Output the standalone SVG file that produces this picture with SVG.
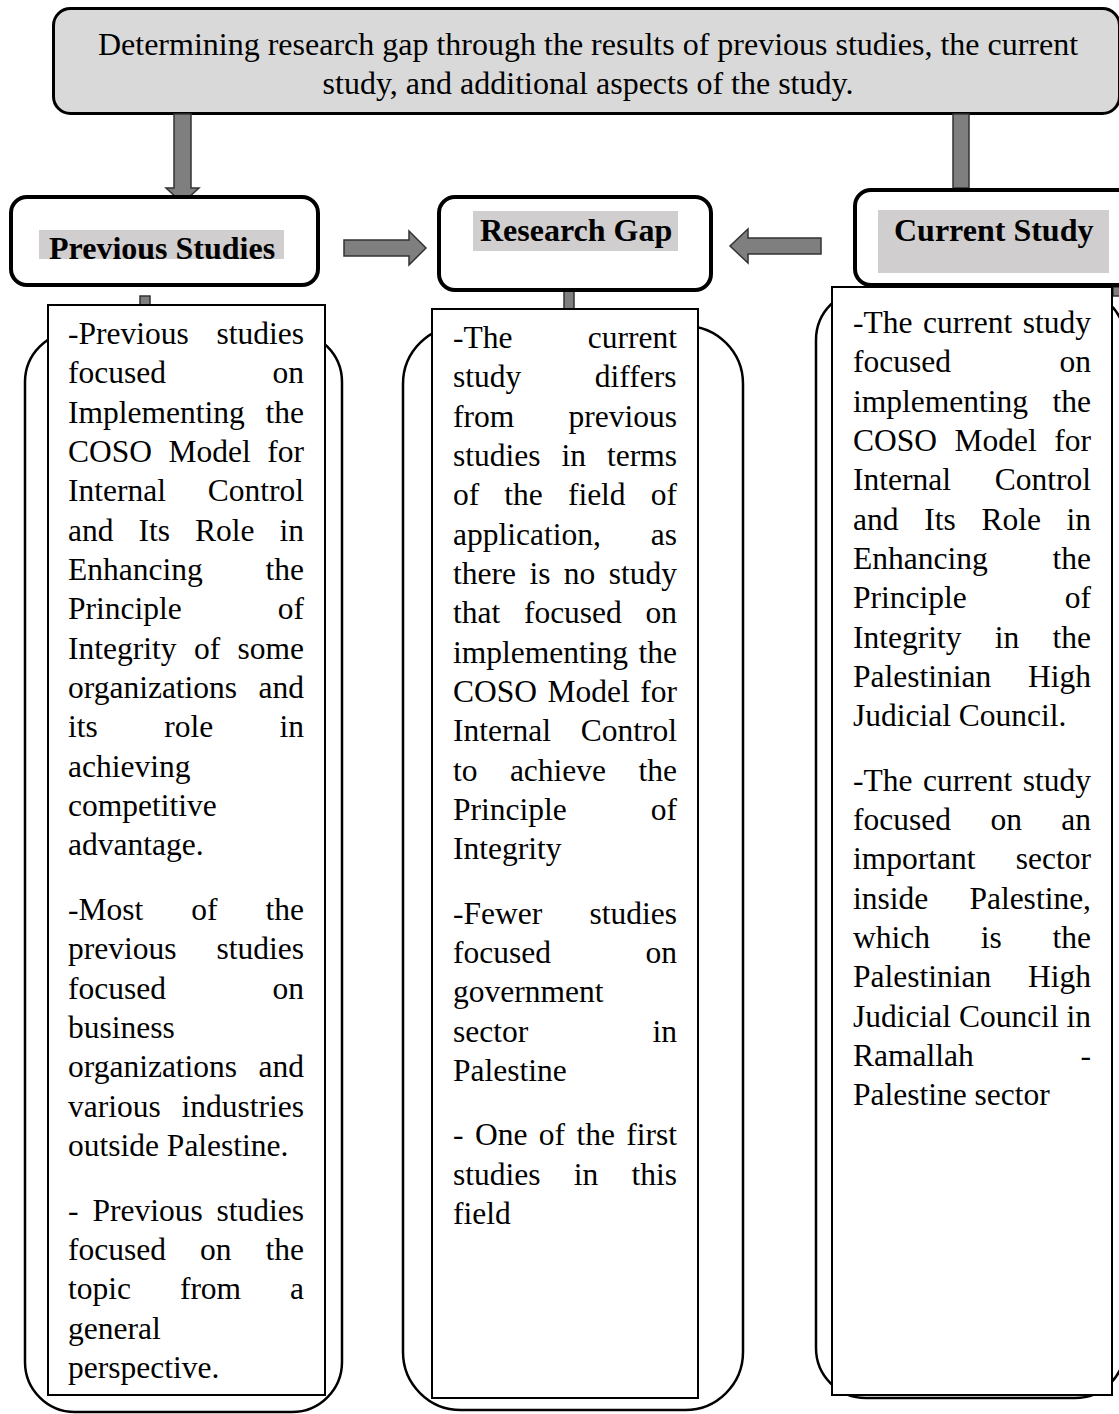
<svg xmlns="http://www.w3.org/2000/svg" width="1119" height="1414" viewBox="0 0 1119 1414">
<style>
.t{font-family:"Liberation Serif","Times New Roman",serif;font-size:31.5px;fill:#000}
.top{font-family:"Liberation Serif","Times New Roman",serif;font-size:32px;fill:#000;text-anchor:middle}
.h{font-family:"Liberation Serif","Times New Roman",serif;font-size:32px;font-weight:bold;fill:#000}
.hb{fill:#fff;stroke:#000;stroke-width:4}
.hl{fill:#d0cece}
.outer{fill:#fff;stroke:#000;stroke-width:2.5}
.inner{fill:#fff;stroke:#000;stroke-width:2}
.arr{fill:#7f7f7f;stroke:#333;stroke-width:1.5}
</style>
<rect width="1119" height="1414" fill="#fff"/>
<g id="node-top">
<rect x="53.5" y="8.5" width="1066" height="105" rx="17" fill="#d9d9d9" stroke="#000" stroke-width="3"/>
<text class="top" x="588" y="55">Determining research gap through the results of previous studies, the current</text>
<text class="top" x="588" y="94">study, and additional aspects of the study.</text>
</g>
<g id="connectors">
<polygon class="arr" points="174,114 191,114 191,188 199,188 182.5,203 166,188 174,188"/>
<rect class="arr" x="953" y="114" width="16" height="74"/>
<polygon class="arr" points="344,240 409,240 409,231 426,248 409,265 409,256 344,256"/>
<polygon class="arr" points="821,238 748,238 748,229 730,246 748,263 748,254 821,254"/>
<rect class="arr" x="140" y="296" width="10" height="9"/>
<rect class="arr" x="564" y="291" width="10" height="18"/>
<rect class="arr" x="1113" y="287" width="10" height="9"/>
</g>
<g id="node-prev">
<rect class="hb" x="11" y="197" width="307" height="88" rx="16"/>
<rect class="hl" x="39" y="230" width="245" height="29"/>
<text class="h" x="49" y="259">Previous Studies</text>
</g>
<g id="node-gap">
<rect class="hb" x="439" y="197" width="272" height="93" rx="16"/>
<rect class="hl" x="473" y="211" width="205" height="40"/>
<text class="h" x="480" y="241">Research Gap</text>
</g>
<g id="node-current">
<rect class="hb" x="855" y="190" width="280" height="95" rx="16"/>
<rect class="hl" x="878" y="210" width="231" height="63"/>
<text class="h" x="894" y="241">Current Study</text>
</g>
<g id="col-prev">
<rect class="outer" x="25" y="332" width="317" height="1080" rx="50"/>
<rect class="inner" x="48" y="305" width="277" height="1090"/>
<text class="t" y="344"><tspan x="68">-Previous</tspan><tspan x="216.5">studies</tspan></text>
<text class="t" y="383.3"><tspan x="68">focused</tspan><tspan x="272.5">on</tspan></text>
<text class="t" y="422.7"><tspan x="68">Implementing</tspan><tspan x="265.5">the</tspan></text>
<text class="t" y="462"><tspan x="68">COSO</tspan><tspan x="168.5">Model</tspan><tspan x="267.3">for</tspan></text>
<text class="t" y="501.3"><tspan x="68">Internal</tspan><tspan x="207.7">Control</tspan></text>
<text class="t" y="540.7"><tspan x="68">and</tspan><tspan x="138.5">Its</tspan><tspan x="195">Role</tspan><tspan x="279.5">in</tspan></text>
<text class="t" y="580"><tspan x="68">Enhancing</tspan><tspan x="265.5">the</tspan></text>
<text class="t" y="619.3"><tspan x="68">Principle</tspan><tspan x="277.8">of</tspan></text>
<text class="t" y="658.7"><tspan x="68">Integrity</tspan><tspan x="193.9">of</tspan><tspan x="237.5">some</tspan></text>
<text class="t" y="698"><tspan x="68">organizations</tspan><tspan x="258.5">and</tspan></text>
<text class="t" y="737.3"><tspan x="68">its</tspan><tspan x="164.2">role</tspan><tspan x="279.5">in</tspan></text>
<text class="t" x="68" y="776.7">achieving</text>
<text class="t" x="68" y="816">competitive</text>
<text class="t" x="68" y="855.3">advantage.</text>
<text class="t" y="920"><tspan x="68">-Most</tspan><tspan x="191.3">of</tspan><tspan x="265.5">the</tspan></text>
<text class="t" y="959.3"><tspan x="68">previous</tspan><tspan x="216.5">studies</tspan></text>
<text class="t" y="998.7"><tspan x="68">focused</tspan><tspan x="272.5">on</tspan></text>
<text class="t" x="68" y="1038">business</text>
<text class="t" y="1077.3"><tspan x="68">organizations</tspan><tspan x="258.5">and</tspan></text>
<text class="t" y="1116.7"><tspan x="68">various</tspan><tspan x="181.5">industries</tspan></text>
<text class="t" x="68" y="1156">outside Palestine.</text>
<text class="t" y="1220.7"><tspan x="68">-</tspan><tspan x="92.4">Previous</tspan><tspan x="216.5">studies</tspan></text>
<text class="t" y="1260"><tspan x="68">focused</tspan><tspan x="200">on</tspan><tspan x="265.5">the</tspan></text>
<text class="t" y="1299.3"><tspan x="68">topic</tspan><tspan x="179.9">from</tspan><tspan x="290">a</tspan></text>
<text class="t" x="68" y="1338.7">general</text>
<text class="t" x="68" y="1378">perspective.</text>
</g>
<g id="col-gap">
<rect class="outer" x="403" y="326" width="340" height="1084" rx="58"/>
<rect class="inner" x="432" y="309" width="266" height="1089"/>
<text class="t" y="348"><tspan x="453">-The</tspan><tspan x="587.8">current</tspan></text>
<text class="t" y="387.3"><tspan x="453">study</tspan><tspan x="594.8">differs</tspan></text>
<text class="t" y="426.7"><tspan x="453">from</tspan><tspan x="568.5">previous</tspan></text>
<text class="t" y="466"><tspan x="453">studies</tspan><tspan x="561.5">in</tspan><tspan x="607">terms</tspan></text>
<text class="t" y="505.3"><tspan x="453">of</tspan><tspan x="504.3">the</tspan><tspan x="567.9">field</tspan><tspan x="650.8">of</tspan></text>
<text class="t" y="544.7"><tspan x="453">application,</tspan><tspan x="650.8">as</tspan></text>
<text class="t" y="584"><tspan x="453">there</tspan><tspan x="529.4">is</tspan><tspan x="563.8">no</tspan><tspan x="608.7">study</tspan></text>
<text class="t" y="623.3"><tspan x="453">that</tspan><tspan x="523.9">focused</tspan><tspan x="645.5">on</tspan></text>
<text class="t" y="662.7"><tspan x="453">implementing</tspan><tspan x="638.5">the</tspan></text>
<text class="t" y="702"><tspan x="453">COSO</tspan><tspan x="547.5">Model</tspan><tspan x="640.3">for</tspan></text>
<text class="t" y="741.3"><tspan x="453">Internal</tspan><tspan x="580.7">Control</tspan></text>
<text class="t" y="780.7"><tspan x="453">to</tspan><tspan x="509.9">achieve</tspan><tspan x="638.5">the</tspan></text>
<text class="t" y="820"><tspan x="453">Principle</tspan><tspan x="650.8">of</tspan></text>
<text class="t" x="453" y="859.3">Integrity</text>
<text class="t" y="923.7"><tspan x="453">-Fewer</tspan><tspan x="589.5">studies</tspan></text>
<text class="t" y="963"><tspan x="453">focused</tspan><tspan x="645.5">on</tspan></text>
<text class="t" x="453" y="1002.3">government</text>
<text class="t" y="1041.7"><tspan x="453">sector</tspan><tspan x="652.5">in</tspan></text>
<text class="t" x="453" y="1081">Palestine</text>
<text class="t" y="1145.3"><tspan x="453">-</tspan><tspan x="474.9">One</tspan><tspan x="538.8">of</tspan><tspan x="576.4">the</tspan><tspan x="626.3">first</tspan></text>
<text class="t" y="1184.7"><tspan x="453">studies</tspan><tspan x="573.7">in</tspan><tspan x="631.5">this</tspan></text>
<text class="t" x="453" y="1224">field</text>
</g>
<g id="col-current">
<rect class="outer" x="816" y="290" width="309" height="1108" rx="50"/>
<rect class="inner" x="832" y="287" width="280" height="1108"/>
<text class="t" y="333"><tspan x="853">-The</tspan><tspan x="923">current</tspan><tspan x="1022.7">study</tspan></text>
<text class="t" y="372.3"><tspan x="853">focused</tspan><tspan x="1059.5">on</tspan></text>
<text class="t" y="411.7"><tspan x="853">implementing</tspan><tspan x="1052.5">the</tspan></text>
<text class="t" y="451"><tspan x="853">COSO</tspan><tspan x="954.5">Model</tspan><tspan x="1054.3">for</tspan></text>
<text class="t" y="490.3"><tspan x="853">Internal</tspan><tspan x="994.7">Control</tspan></text>
<text class="t" y="529.7"><tspan x="853">and</tspan><tspan x="924.2">Its</tspan><tspan x="981.4">Role</tspan><tspan x="1066.5">in</tspan></text>
<text class="t" y="569"><tspan x="853">Enhancing</tspan><tspan x="1052.5">the</tspan></text>
<text class="t" y="608.3"><tspan x="853">Principle</tspan><tspan x="1064.8">of</tspan></text>
<text class="t" y="647.7"><tspan x="853">Integrity</tspan><tspan x="994.7">in</tspan><tspan x="1052.5">the</tspan></text>
<text class="t" y="687"><tspan x="853">Palestinian</tspan><tspan x="1028">High</tspan></text>
<text class="t" x="853" y="726.3">Judicial Council.</text>
<text class="t" y="790.7"><tspan x="853">-The</tspan><tspan x="923">current</tspan><tspan x="1022.7">study</tspan></text>
<text class="t" y="830"><tspan x="853">focused</tspan><tspan x="990.4">on</tspan><tspan x="1061.3">an</tspan></text>
<text class="t" y="869.3"><tspan x="853">important</tspan><tspan x="1015.8">sector</tspan></text>
<text class="t" y="908.7"><tspan x="853">inside</tspan><tspan x="969.4">Palestine,</tspan></text>
<text class="t" y="948"><tspan x="853">which</tspan><tspan x="980.7">is</tspan><tspan x="1052.5">the</tspan></text>
<text class="t" y="987.3"><tspan x="853">Palestinian</tspan><tspan x="1028">High</tspan></text>
<text class="t" y="1026.7"><tspan x="853">Judicial</tspan><tspan x="958.9">Council</tspan><tspan x="1066.5">in</tspan></text>
<text class="t" y="1066"><tspan x="853">Ramallah</tspan><tspan x="1080.5">-</tspan></text>
<text class="t" x="853" y="1105.3">Palestine sector</text>
</g>
</svg>
